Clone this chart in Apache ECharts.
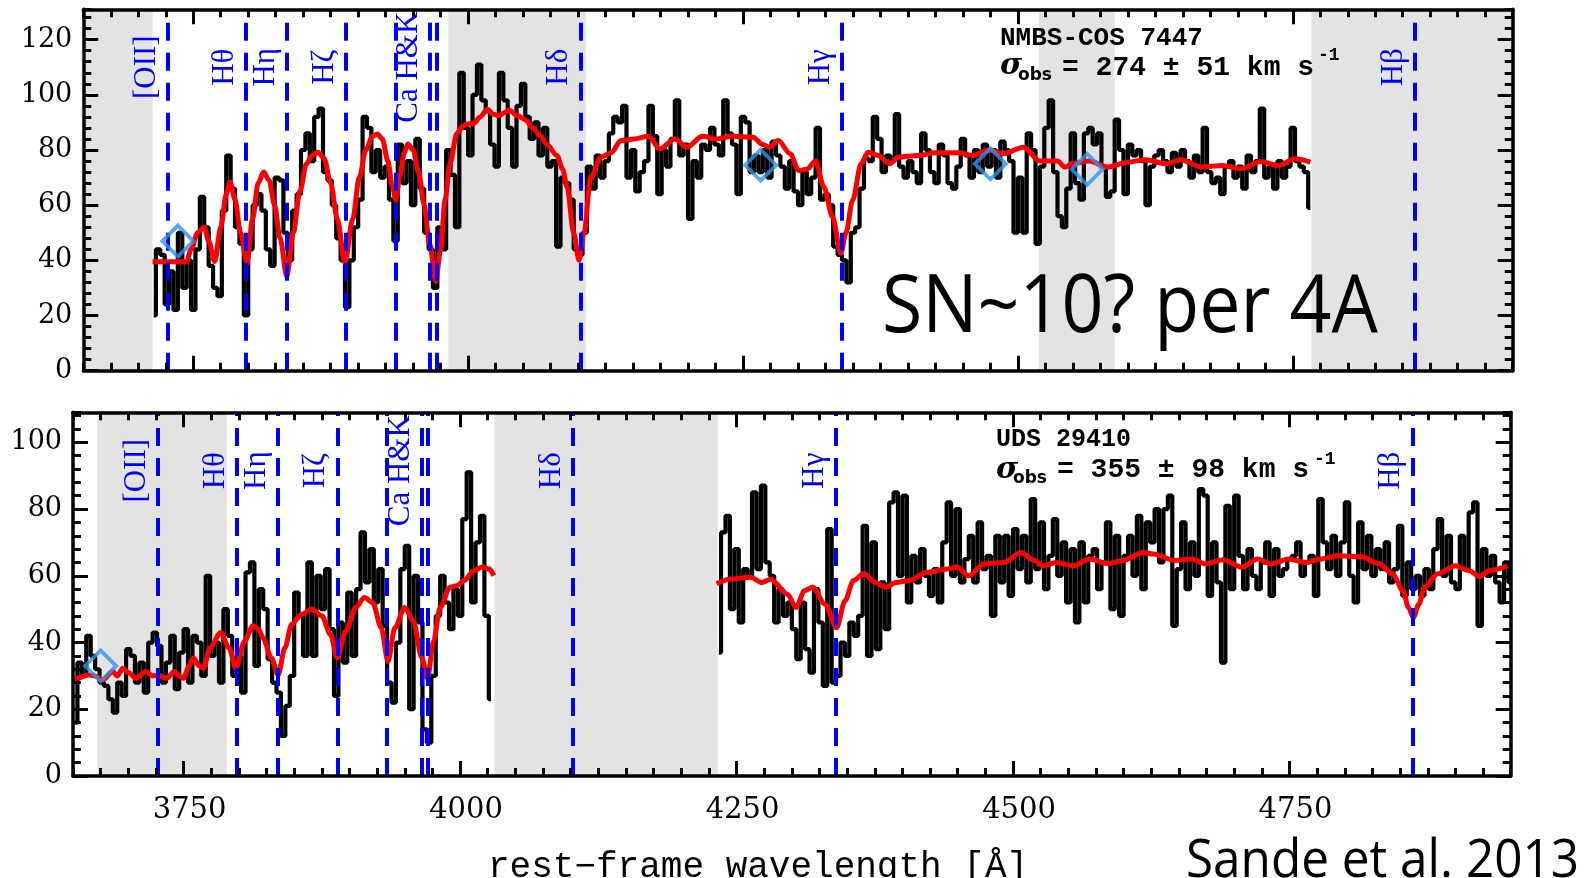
<!DOCTYPE html>
<html><head><meta charset="utf-8">
<script src="https://cdn.jsdelivr.net/npm/echarts@6/dist/echarts.min.js"></script>
<style>html,body{margin:0;padding:0;background:#fff}#c{width:1587px;height:878px}</style>
</head><body><div id="c"></div>
<script>
// ---------------- data ----------------
const binStep = 4;
// top panel (NMBS-COS 7447): observed spectrum, bins of 4 A starting at 3714
const topStart = 3714;
const topFlux = [
 20,44,42,24,36,22,50,30,40,22,
 44,63,52,38,30,27,58,78,66,52,
 46,20,44,60,64,58,44,38,70,69,
 50,40,58,64,80,86,76,92,95,72,
 69,60,48,40,23,40,52,62,92,88,
 72,80,70,74,62,47,82,68,76,60,
 84,66,50,44,30,52,44,80,71,52,
 108,88,78,100,111,98,94,82,74,108,
 98,88,74,96,104,92,84,90,78,88,
 74,76,45,70,68,62,44,42,50,74,
 66,78,70,76,86,92,90,96,70,80,
 65,72,76,96,85,64,80,74,84,98,
 78,82,55,76,70,82,80,88,82,78,
 98,86,82,64,92,90,72,78,72,80,
 70,83,78,74,66,76,65,60,72,64,
 70,88,62,64,60,45,42,40,32,50,
 52,66,77,76,92,84,72,78,76,93,
 74,70,76,72,68,86,80,72,68,82,
 78,68,66,74,84,78,70,80,72,82,
 74,80,70,83,80,76,50,70,50,86,
 80,46,74,88,98,72,56,52,66,86,
 68,62,86,88,82,86,74,63,65,91,
 80,64,82,78,80,76,60,74,78,80,
 76,72,79,74,80,76,70,78,72,88,
 72,68,70,64,74,76,70,74,66,78,
 72,76,95,70,74,66,76,70,74,88,
 76,74,72,59
];
// top panel best-fit model [wavelength, flux]
const topModel = [
 [3713,39.5],[3744,39.5],[3748,44],[3754,50],[3760,52],[3764,47],[3769.5,39.6],[3775,52],[3780,64],[3783.5,68.4],
 [3788,62],[3793,50],[3798.8,39],[3804,55],[3809,68],[3814,72],[3819,69],[3824,60],[3829,48],[3835,34.2],
 [3841,50],[3847,65],[3853,75],[3858,78],[3863.4,79.2],[3869,77],[3875,68],[3881,55],[3888,39],[3895,55],
 [3901,70],[3907,80],[3913,85],[3917.4,85.8],[3922,84],[3927,76],[3931,67],[3934.3,61.8],[3938,71],[3942,79],
 [3945,82.2],[3950,80],[3955,72],[3960,60],[3965,46],[3970.6,32.4],[3975,44],[3979,62],[3983.5,75],[3989.7,86],
 [3995,88.5],[3999,89.4],[4005,89.6],[4011,92],[4017.4,94.8],[4023,93],[4028,92.4],[4033,93.5],[4037.3,94.5],[4045,92.4],
 [4052,91],[4059,88],[4066,85],[4071.6,82],[4080.8,78],[4086,73],[4090,66.6],[4096,50],[4100.8,40],[4105.4,50],
 [4111.5,70],[4120.8,77.4],[4130,79],[4139,83.4],[4151,84],[4164,85],[4174.5,80.4],[4188,84],[4199,81],[4213,85],
 [4225,84],[4240.6,85],[4259,84.6],[4268,82],[4274,81],[4282,83.4],[4293,78.6],[4300.5,72.6],[4308,73],[4316,76],
 [4323.6,66.6],[4331.3,55.8],[4339,42.6],[4343.6,50],[4349.7,61.8],[4357.4,75],[4363.6,79.2],[4372.8,78],[4383.5,75],[4391,77.4],
 [4409.6,78],[4425,79],[4446.5,79],[4458.8,78],[4474,80],[4486.5,78.6],[4505,81],[4520,76],[4536,76],[4543,73.8],
 [4549,75],[4565,76],[4581,73.8],[4600,75.6],[4616,76.5],[4635,75],[4648,76.5],[4667,73.8],[4686,74.4],[4703,73.2],
 [4721,75.8],[4737,74.4],[4752,76.8],[4766,75.6]
];
// bottom panel (UDS 29410): two spectral pieces
const botStartA = 3652;
const botFluxA = [
 16,34,30,42,36,32,28,27,23,19,
 28,24,38,36,28,34,25,40,43,39,
 28,34,42,26,37,44,28,42,40,30,
 60,36,40,28,50,42,30,36,25,61,
 64,33,56,50,35,28,25,12,21,30,
 55,48,36,64,36,60,50,62,44,24,
 46,34,55,36,56,73,58,68,52,62,
 45,28,22,40,62,69,20,60,46,14,
 10,30,48,60,52,44,56,48,77,91,
 52,70,78,48,23
];
const botStartB = 4234;
const botFluxB = [
 37,73,78,50,68,46,62,60,85,62,
 87,64,60,46,56,48,52,44,35,52,
 38,31,56,46,27,74,28,30,40,36,
 46,42,48,75,36,70,38,58,44,82,
 85,60,84,52,66,58,68,60,54,62,
 52,70,82,60,80,58,65,72,58,76,
 62,66,48,72,58,72,54,74,62,72,
 58,83,62,76,56,66,77,60,70,52,
 68,46,70,52,66,68,56,64,76,50,
 72,48,66,72,60,78,56,76,70,80,
 64,80,84,45,62,76,56,70,60,86,
 84,54,70,58,34,81,56,84,66,56,
 68,60,56,64,70,54,68,60,62,65,
 66,70,60,64,66,54,83,70,62,72,
 60,70,82,60,52,76,62,72,60,68,
 62,70,58,62,75,54,64,56,60,54,
 62,56,68,77,60,72,58,56,72,62,
 79,82,45,68,60,66,58,52,64,58
];
const botModelA = [
 [3650,29],[3654,29.3],[3664,30.3],[3670,30],[3676.6,28.8],[3686,31.3],[3690,30],[3695,32.3],[3700,31],[3707,29.3],
 [3716,31.3],[3722,30],[3727,30.3],[3734.6,29.3],[3742,31.3],[3746,30],[3750,29.3],[3755,33],[3759,35.4],[3764,33],
 [3768,32.3],[3774,38.4],[3783.5,43],[3791,38.4],[3797.3,32.3],[3805,40.4],[3812.6,45],[3818,44],[3821.7,41.4],[3829.4,35.4],
 [3835.5,30.3],[3841.6,38.4],[3847.7,45.5],[3856.9,48.5],[3866,50],[3875,48],[3882.8,42.4],[3889,35.4],[3896.6,43.4],[3905.8,50.5],
 [3913.4,53.5],[3921,52],[3928.7,44.4],[3934.8,34.3],[3941,44.4],[3950,50.5],[3957.7,46.5],[3965.4,35.4],[3970.6,29.3],[3976,40.4],
 [3982,50.5],[3991,56.6],[3997,57],[4003.6,58.6],[4012.7,61.6],[4020,62.6],[4026.5,62],[4030.5,60]
];
const botModelB = [
 [4232,57.6],[4244,59],[4262.5,59.6],[4273,58],[4281,59],[4296,54.5],[4303.8,50.5],[4311.4,55.5],[4319,56.6],[4330,51.5],
 [4340.5,44.4],[4348,52.5],[4355.8,58.6],[4365,60.6],[4375.7,58],[4385,56.6],[4394,58],[4406,58.6],[4421.7,61],[4440,62],
 [4449,62.6],[4460,60],[4473.7,63.6],[4492,64],[4507,67],[4519.6,64.6],[4527,63],[4539,64],[4555,63],[4569,65],
 [4586,63.6],[4599,64.6],[4617.7,67],[4627,66.5],[4646,64.6],[4661.6,65],[4674,63.6],[4690,64.8],[4707,62.6],[4721,65],
 [4733.7,63.6],[4749,65],[4765,64],[4777.6,65],[4793,66],[4815,65.7],[4831,63.6],[4843,60.6],[4852.8,55.5],[4857.5,50.5],
 [4862,47.5],[4867,51.5],[4872,56.6],[4884,60.6],[4900,63],[4912,61.6],[4922,59.8],[4931,61.6],[4947,63]
];
// masked (grey) wavelength ranges
const topShade = [[3650,3713],[3982,4107],[4519,4588],[4767,4950]];
const botShade = [[3672,3789],[4031,4233]];
// spectral feature lines
const featureLines = [3727,3798,3835,3889,3934,3965,3971,4102,4340,4861];
const featureLabels = [['[OII]',3727],['H\u03b8',3798],['H\u03b7',3835],['H\u03b6',3889],['Ca H&K',3965],['H\u03b4',4102],['H\u03b3',4340],['H\u03b2',4861]];
// blue diamonds
const topDiamonds = [[3736,47],[4266,74.5],[4475,75],[4563,73]];
const botDiamonds = [[3675,33]];
// ticks
const xMajorTicks = [3750,4000,4250,4500,4750];
const yTicksTop = [0,20,40,60,80,100,120];
const yTicksBot = [0,20,40,60,80,100];

// ---------------- build ----------------
const bins = (start, flux) => flux.map((v, i) => [start + i * binStep, v]);
const BLACK = '#000';
const X_MIN = 3650, X_MAX = 4950;

function xAxes(grid, showLabels) {
  const base = {gridIndex: grid, type: 'value', min: X_MIN, max: X_MAX, splitLine: {show: false}, z: 10};
  const lineOn = {show: true, onZero: false, lineStyle: {color: BLACK, width: 3.5}};
  const lineOff = {show: false, onZero: false};
  const minorTick = {show: true, inside: true, length: 8, lineStyle: {color: BLACK, width: 3}};
  const majorTick = {show: true, inside: true, length: 15, customValues: xMajorTicks, lineStyle: {color: BLACK, width: 3}};
  return [
    Object.assign({}, base, {position: 'bottom', interval: 25, axisLine: lineOn, axisTick: minorTick, axisLabel: {show: false}}),
    Object.assign({}, base, {position: 'bottom', axisLine: lineOff, axisTick: majorTick,
      axisLabel: {show: showLabels, customValues: xMajorTicks, formatter: v => String(v), margin: 20, color: BLACK,
        fontFamily: 'DejaVu Serif', fontSize: 29, padding: [0, 0, 0, 12]}}),
    Object.assign({}, base, {position: 'top', interval: 25, axisLine: lineOn, axisTick: minorTick, axisLabel: {show: false}}),
    Object.assign({}, base, {position: 'top', axisLine: lineOff, axisTick: majorTick, axisLabel: {show: false}})
  ];
}
function yAxes(grid, max, ticks) {
  const base = {gridIndex: grid, type: 'value', min: 0, max: max, splitLine: {show: false}, z: 10};
  const lineOn = {show: true, onZero: false, lineStyle: {color: BLACK, width: 3.5}};
  const lineOff = {show: false, onZero: false};
  const minorTick = {show: true, inside: true, length: 8, lineStyle: {color: BLACK, width: 3}};
  const majorTick = {show: true, inside: true, length: 15, customValues: ticks, lineStyle: {color: BLACK, width: 3}};
  return [
    Object.assign({}, base, {position: 'left', interval: 4, axisLine: lineOn, axisTick: minorTick, axisLabel: {show: false}}),
    Object.assign({}, base, {position: 'left', axisLine: lineOff, axisTick: majorTick,
      axisLabel: {show: true, customValues: ticks, formatter: v => String(v), margin: 11, color: BLACK, fontFamily: 'DejaVu Serif', fontSize: 27}}),
    Object.assign({}, base, {position: 'right', interval: 4, axisLine: lineOn, axisTick: minorTick, axisLabel: {show: false}}),
    Object.assign({}, base, {position: 'right', axisLine: lineOff, axisTick: majorTick, axisLabel: {show: false}})
  ];
}

function panelSeries(ax, shade, spectra, models, diamonds) {
  const s = [];
  s.push({type: 'line', xAxisIndex: ax, yAxisIndex: ax, data: [], z: 1, silent: true,
    markArea: {silent: true, itemStyle: {color: '#e3e3e3'}, data: shade.map(r => [{xAxis: r[0]}, {xAxis: r[1]}])}});
  spectra.forEach(d => s.push({type: 'line', xAxisIndex: ax, yAxisIndex: ax, data: d, step: 'middle', showSymbol: false,
    lineStyle: {color: BLACK, width: 4.2}, z: 2, silent: true}));
  s.push({type: 'line', xAxisIndex: ax, yAxisIndex: ax, data: [], z: 3, silent: true,
    markLine: {silent: true, symbol: ['none', 'none'], label: {show: false},
      lineStyle: {color: '#0000ff', width: 4, type: [18, 12]}, data: featureLines.map(x => ({xAxis: x}))}});
  models.forEach(d => s.push({type: 'line', xAxisIndex: ax, yAxisIndex: ax, data: d, smooth: 0.3, smoothMonotone: 'x', showSymbol: false,
    lineStyle: {color: '#ff0000', width: 5}, z: 4, silent: true}));
  s.push({type: 'scatter', xAxisIndex: ax, yAxisIndex: ax, data: diamonds, symbol: 'diamond', symbolSize: 31, z: 5, silent: true,
    itemStyle: {color: 'rgba(0,0,0,0)', borderColor: '#2f92f0', borderWidth: 3.8}});
  return s;
}

function fitScale(text, font, target) {
  const ctx = document.createElement('canvas').getContext('2d');
  ctx.font = font;
  return target / ctx.measureText(text).width;
}

const series = [].concat(
  panelSeries(0, topShade, [bins(topStart, topFlux)], [topModel], topDiamonds),
  panelSeries(4, botShade, [bins(botStartA, botFluxA), bins(botStartB, botFluxB)], [botModelA, botModelB], botDiamonds)
);

const snText = 'SN~10? per 4A';
const sandeText = 'Sande et al. 2013';
const txt = (x, y, text, family, size, weight, extra) => Object.assign({type: 'text', x: x, y: y, z: 100, silent: true,
  style: Object.assign({text: text, fontFamily: family, fontSize: size, fontWeight: weight || 'normal', fill: BLACK, align: 'left', verticalAlign: 'middle'}, extra || {})});

const graphic = [
  txt(1000, 38.5, 'NMBS-COS 7447', 'Liberation Mono', 26, 'bold'),
  txt(1000, 66, '\u03c3', 'DejaVu Serif', 30, 'bold', {fontStyle: 'italic'}),
  txt(1018, 76, 'obs', 'DejaVu Sans', 17, 'bold'),
  txt(1062, 68, '= 274 \u00b1 51 km s', 'Liberation Mono', 28, 'bold'),
  txt(1318, 55, '-1', 'Liberation Mono', 18, 'bold'),
  txt(996, 440, 'UDS 29410', 'Liberation Mono', 25, 'bold'),
  txt(996, 470, '\u03c3', 'DejaVu Serif', 30, 'bold', {fontStyle: 'italic'}),
  txt(1013, 479, 'obs', 'DejaVu Sans', 17, 'bold'),
  txt(1057, 470, '= 355 \u00b1 98 km s', 'Liberation Mono', 28, 'bold'),
  txt(1314, 459, '-1', 'Liberation Mono', 18, 'bold'),
  Object.assign(txt(882, 309, snText, 'Open Sans', 80), {scaleX: fitScale(snText, '80px "Open Sans"', 496)}),
  Object.assign(txt(1186, 862, sandeText, 'Open Sans', 53), {scaleX: fitScale(sandeText, '53px "Open Sans"', 393)}),
  txt(488, 867, 'rest\u2212frame wavelength [\u00c5]', 'Liberation Mono', 36)
];

const option = {
  animation: false,
  backgroundColor: '#fff',
  grid: [
    {left: 83.3, top: 9.3, width: 1429.4, height: 361.4},
    {left: 73, top: 412.3, width: 1437.7, height: 363.7}
  ],
  xAxis: [].concat(xAxes(0, false), xAxes(1, true)),
  yAxis: [].concat(yAxes(0, 131, yTicksTop), yAxes(1, 109, yTicksBot)),
  series: series,
  graphic: graphic
};
const chart = echarts.init(document.getElementById('c'), null, {renderer: 'canvas'});
chart.setOption(option);

// rotated blue feature labels, placed through each panel's scales
const labelLevel = [[0, 110], [4, 91.5]]; // [axis index, flux level of label centre]
const labelGraphics = [];
labelLevel.forEach(([ax, level]) => {
  featureLabels.forEach(([t, wl]) => {
    const p = chart.convertToPixel({xAxisIndex: ax, yAxisIndex: ax}, [wl, level]);
    labelGraphics.push({type: 'text', x: p[0] - 21, y: p[1], rotation: Math.PI / 2, z: 50, silent: true,
      style: {text: t, align: 'center', verticalAlign: 'middle', fill: '#0000ff', fontFamily: 'Liberation Serif', fontSize: 31}});
  });
});
chart.setOption({graphic: graphic.concat(labelGraphics)});
</script>
</body></html>
